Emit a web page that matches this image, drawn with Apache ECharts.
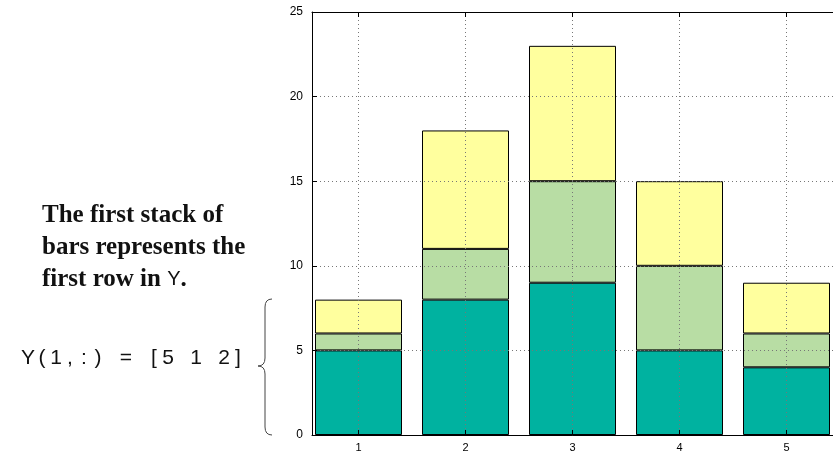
<!DOCTYPE html>
<html>
<head>
<meta charset="utf-8">
<script src="https://cdn.jsdelivr.net/npm/echarts@6/dist/echarts.min.js"></script>
<style>html,body{margin:0;padding:0;background:#fff}#c{width:833px;height:454px}</style>
</head>
<body>
<div id="c"></div>
<script>
const categories = ['1', '2', '3', '4', '5'];
const row1 = [5, 8, 9, 5, 4];
const row2 = [1, 3, 6, 5, 2];
const row3 = [2, 7, 8, 5, 3];
const yTicks = [0, 5, 10, 15, 20, 25];
const noteText = 'Y(1,:) = [5 1 2]';

const colors = ['#00B2A0', '#B8DDA4', '#FFFF9E'];
const chart = echarts.init(document.getElementById('c'));
const sans = 'Liberation Sans, Arial, Helvetica, sans-serif';
const serif = 'Liberation Serif, Times New Roman, serif';

function mk(vals, i) {
  return {
    type: 'bar', stack: 'Y', barWidth: 87, xAxisIndex: 2, yAxisIndex: 1,
    data: vals,
    itemStyle: { color: colors[i], borderColor: '#000', borderWidth: 1 },
    emphasis: { disabled: true }, animation: false
  };
}

const st = { stroke: '#444', lineWidth: 1, fill: 'none' };
const serifStyle = { fontFamily: serif, fontSize: 25, fontWeight: 'bold', fill: '#111' };
const yMin = yTicks[0], yMax = yTicks[yTicks.length - 1];
const dotted = { color: '#777', type: [1, 3], width: 1 };

const graphics = [
  { type: 'text', x: 42, y: 203, style: Object.assign({ text: 'The first stack of' }, serifStyle) },
  { type: 'text', x: 42, y: 235, style: Object.assign({ text: 'bars represents the' }, serifStyle) },
  { type: 'text', x: 42, y: 267, style: Object.assign({ text: 'first row in {s|Y}.',
      rich: { s: { fontFamily: sans, fontSize: 20, fontWeight: 'normal', fill: '#111' } } }, serifStyle) },
  { type: 'bezierCurve', shape: { x1: 272, y1: 299, cpx1: 265, cpy1: 299, x2: 265, y2: 307 }, style: st },
  { type: 'line', shape: { x1: 265, y1: 307, x2: 265, y2: 358 }, style: st },
  { type: 'bezierCurve', shape: { x1: 265, y1: 358, cpx1: 265, cpy1: 366, x2: 258, y2: 366 }, style: st },
  { type: 'bezierCurve', shape: { x1: 258, y1: 366, cpx1: 265, cpy1: 366, x2: 265, y2: 374 }, style: st },
  { type: 'line', shape: { x1: 265, y1: 374, x2: 265, y2: 427 }, style: st },
  { type: 'bezierCurve', shape: { x1: 265, y1: 427, cpx1: 265, cpy1: 435, x2: 272, y2: 435 }, style: st }
];
noteText.split('').forEach((ch, i) => {
  if (ch === ' ') return;
  graphics.push({ type: 'text', x: 28 + i * 14, y: 358,
    style: { text: ch, fontFamily: sans, fontSize: 21, fill: '#111', align: 'center', verticalAlign: 'middle' } });
});

chart.setOption({
  animation: false,
  grid: [
    { left: 312, top: 12, bottom: 19, right: -7, outerBoundsMode: 'none', show: false },
    { left: 305, top: 12, bottom: 19, right: -7, outerBoundsMode: 'none', show: false }
  ],
  xAxis: [{
    gridIndex: 0, type: 'value', min: 0.5654, max: 5.5, position: 'bottom', z: 5,
    axisLine: { show: true, lineStyle: { color: '#000', width: 1 } },
    axisTick: { show: true, inside: true, length: 5, lineStyle: { color: '#000' } },
    axisLabel: { show: true, showMinLabel: false, showMaxLabel: false, color: '#000', fontSize: 11, fontFamily: sans, margin: 7 },
    splitLine: { show: true, lineStyle: dotted }
  }, {
    gridIndex: 0, type: 'value', min: 0.5654, max: 5.5, position: 'top', z: 5,
    axisLine: { show: true, onZero: false, lineStyle: { color: '#000', width: 1 } },
    axisTick: { show: true, inside: true, length: 5, lineStyle: { color: '#000' } },
    axisLabel: { show: false }, splitLine: { show: false }
  }, {
    gridIndex: 1, type: 'category', data: categories, boundaryGap: true,
    axisLine: { show: false }, axisTick: { show: false }, axisLabel: { show: false }, splitLine: { show: false }
  }],
  yAxis: [{
    gridIndex: 0, type: 'value', min: yMin, max: yMax, interval: 5, z: 5,
    axisLine: { show: true, lineStyle: { color: '#000', width: 1 } },
    axisTick: { show: true, inside: true, length: 5, lineStyle: { color: '#000' } },
    axisLabel: { color: '#000', fontSize: 12, fontFamily: sans, margin: 9 },
    splitLine: { show: true, lineStyle: dotted }
  }, {
    gridIndex: 1, type: 'value', min: yMin, max: yMax, interval: 5, show: false,
    splitLine: { show: false }
  }],
  series: [mk(row1, 0), mk(row2, 1), mk(row3, 2)],
  graphic: graphics
});
</script>
</body>
</html>
